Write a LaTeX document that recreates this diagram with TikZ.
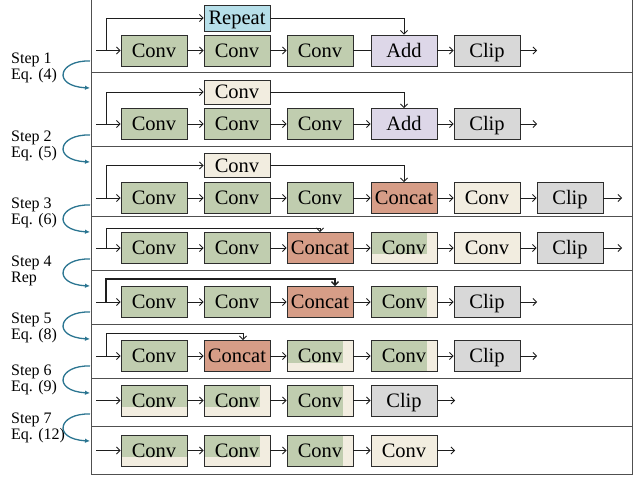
\documentclass[tikz,border=0pt]{standalone}
\usepackage{fontspec}
\setmainfont{Liberation Serif}
\usetikzlibrary{arrows.meta}
\definecolor{cgreen}{RGB}{192,205,175}
\definecolor{ccream}{RGB}{242,237,224}
\definecolor{crep}{RGB}{182,223,233}
\definecolor{cadd}{RGB}{221,215,232}
\definecolor{cclip}{RGB}{216,216,216}
\definecolor{ccat}{RGB}{214,157,135}
\definecolor{boxline}{RGB}{45,45,45}
\definecolor{lnc}{RGB}{30,30,30}
\definecolor{framec}{RGB}{80,80,80}
\definecolor{teal}{RGB}{43,117,145}
\begin{document}
\begin{tikzpicture}[x=1pt,y=-1pt,
  box/.style={draw=boxline, line width=0.9pt, minimum width=66pt, minimum height=31pt,
    inner sep=0pt, text height=13.6pt, text depth=0pt, font=\fontsize{20.5}{24}\selectfont},
  gconv/.style={box, fill=cgreen},
  cconv/.style={box, fill=ccream},
  addbox/.style={box, fill=cadd},
  clipbox/.style={box, fill=cclip},
  catbox/.style={box, fill=ccat},
  upbox/.style={minimum height=24pt},
  splitR/.style={box, fill=ccream, path picture={\fill[cgreen] (path picture bounding box.north west) rectangle ([xshift=-10pt]path picture bounding box.south east);}},
  splitB/.style={box, fill=ccream, path picture={\fill[cgreen] (path picture bounding box.north west) rectangle ([yshift=9pt]path picture bounding box.south east);}},
  splitBR/.style={box, fill=ccream, path picture={\fill[cgreen] (path picture bounding box.north west) rectangle ([xshift=-10pt,yshift=9pt]path picture bounding box.south east);}},
  arr/.style={draw=lnc, line width=0.8pt, -{Straight Barb[length=3.5pt,width=7pt]}},
  ln/.style={draw=lnc, line width=0.8pt},
  frame/.style={draw=framec, line width=1pt},
  curv/.style={draw=teal, line width=1.3pt, -{Latex[length=5pt,width=4.5pt]}},
  lab/.style={anchor=west, align=left, inner sep=0pt, font=\fontsize{16}{16.5}\selectfont}
]
\useasboundingbox (0,0) rectangle (637,478);
% frame
\draw[frame] (91,0) -- (91,474) -- (632,474) -- (632,0);
\foreach \s in {73,147,217,271,324,378,426} \draw[frame] (91,\s) -- (632,\s);

% ---- step labels and curved arrows
\node[lab] (l1) at (11,68) {Step 1\\Eq. (4)};
\node[lab] (l2) at (11,146) {Step 2\\Eq. (5)};
\node[lab] (l3) at (11,213) {Step 3\\Eq. (6)};
\node[lab] (l4) at (11,271) {Step 4\\Rep};
\node[lab] (l5) at (11,328) {Step 5\\Eq. (8)};
\node[lab] (l6) at (11,380) {Step 6\\Eq. (9)};
\node[lab] (l7) at (11,428) {Step 7\\Eq. (12)};
\foreach \s [count=\i] in {73,147,217,271,324,378,426}{
  \coordinate (cs\i) at (90,\s-12);
  \coordinate (ce\i) at (90,\s+15);
  \draw[curv] (cs\i) .. controls +(-32,-1) and +(-38,-2) .. (ce\i);
}

% ---- Row 1
\node[gconv] (a1) at (154,50.5) {Conv};
\node[gconv] (a2) at (237,50.5) {Conv};
\node[gconv] (a3) at (320,50.5) {Conv};
\node[addbox] (a4) at (404,50.5) {Add};
\node[clipbox] (a5) at (487,50.5) {Clip};
\node[box, fill=crep, minimum height=26pt] (ar) at (237,18) {Repeat};
\coordinate (ai) at (96,50.5); \coordinate (ab) at (106,50.5); \coordinate (ao) at (537,50.5);
\draw[arr] (ai) -- (a1);
\draw[arr] (ab) |- (ar);
\draw[arr] (a1) -- (a2);
\draw[arr] (a2) -- (a3);
\draw[ln] (a3) -- (a4);
\draw[arr] (a4) -- (a5);
\draw[arr] (a5) -- (ao);
\draw[arr] (ar) -| (a4);

% ---- Row 2
\node[gconv] (b1) at (154,124) {Conv};
\node[gconv] (b2) at (237,124) {Conv};
\node[gconv] (b3) at (320,124) {Conv};
\node[addbox] (b4) at (404,124) {Add};
\node[clipbox] (b5) at (487,124) {Clip};
\node[cconv, upbox] (bu) at (237,92) {Conv};
\coordinate (bi) at (96,124); \coordinate (bb) at (106,124); \coordinate (bo) at (537,124);
\draw[arr] (bi) -- (b1);
\draw[arr] (bb) |- (bu);
\draw[arr] (b1) -- (b2);
\draw[arr] (b2) -- (b3);
\draw[arr] (b3) -- (b4);
\draw[arr] (b4) -- (b5);
\draw[arr] (b5) -- (bo);
\draw[arr] (bu) -| (b4);

% ---- Row 3
\node[gconv] (c1) at (154,198) {Conv};
\node[gconv] (c2) at (237,198) {Conv};
\node[gconv] (c3) at (320,198) {Conv};
\node[catbox] (c4) at (404,198) {Concat};
\node[cconv] (c5) at (487,198) {Conv};
\node[clipbox] (c6) at (570,198) {Clip};
\node[cconv, upbox] (cu) at (237,165.5) {Conv};
\coordinate (ci) at (96,198); \coordinate (cb) at (106,198); \coordinate (co) at (622,198);
\draw[arr] (ci) -- (c1);
\draw[arr] (cb) |- (cu);
\draw[arr] (c1) -- (c2);
\draw[arr] (c2) -- (c3);
\draw[arr] (c3) -- (c4);
\draw[arr] (c4) -- (c5);
\draw[arr] (c5) -- (c6);
\draw[arr] (c6) -- (co);
\draw[arr] (cu) -| (c4);

% ---- Row 4
\node[gconv] (d1) at (154,248) {Conv};
\node[gconv] (d2) at (237,248) {Conv};
\node[catbox] (d3) at (320,248) {Concat};
\node[splitBR] (d4) at (404,248) {Conv};
\node[cconv] (d5) at (487,248) {Conv};
\node[clipbox] (d6) at (570,248) {Clip};
\coordinate (di) at (96,248); \coordinate (db) at (106,248); \coordinate (do) at (622,248);
\draw[arr] (di) -- (d1);
\draw[arr] (db) -- ++(0,-20) -| (d3);
\draw[arr] (d1) -- (d2);
\draw[arr] (d2) -- (d3);
\draw[arr] (d3) -- (d4);
\draw[arr] (d4) -- (d5);
\draw[arr] (d5) -- (d6);
\draw[arr] (d6) -- (do);

% ---- Row 5
\node[gconv] (e1) at (154,302) {Conv};
\node[gconv] (e2) at (237,302) {Conv};
\node[catbox] (e3) at (320,302) {Concat};
\node[splitR] (e4) at (404,302) {Conv};
\node[clipbox] (e5) at (487,302) {Clip};
\coordinate (ei) at (96,302); \coordinate (eb) at (106,302); \coordinate (eo) at (537,302);
\draw[arr] (ei) -- (e1);
\draw[arr, line width=1.4pt] (eb) -- ++(0,-23) -| ([xshift=15pt]e3.north);
\draw[arr] (e1) -- (e2);
\draw[arr] (e2) -- (e3);
\draw[arr] (e3) -- (e4);
\draw[arr] (e4) -- (e5);
\draw[arr] (e5) -- (eo);

% ---- Row 6
\node[gconv] (f1) at (154,356) {Conv};
\node[catbox] (f2) at (237,356) {Concat};
\node[splitBR] (f3) at (320,356) {Conv};
\node[splitR] (f4) at (404,356) {Conv};
\node[clipbox] (f5) at (487,356) {Clip};
\coordinate (fi) at (96,356); \coordinate (fb) at (106,356); \coordinate (fo) at (537,356);
\draw[arr] (fi) -- (f1);
\draw[arr] (fb) -- ++(0,-23) -| ([xshift=6pt]f2.north);
\draw[arr] (f1) -- (f2);
\draw[arr] (f2) -- (f3);
\draw[arr] (f3) -- (f4);
\draw[arr] (f4) -- (f5);
\draw[arr] (f5) -- (fo);

% ---- Row 7
\node[splitB] (g1) at (154,400.5) {Conv};
\node[splitBR] (g2) at (237,400.5) {Conv};
\node[splitR] (g3) at (320,400.5) {Conv};
\node[clipbox] (g4) at (404,400.5) {Clip};
\coordinate (gi) at (96,400.5); \coordinate (go) at (455,400.5);
\draw[arr] (gi) -- (g1);
\draw[arr] (g1) -- (g2);
\draw[arr] (g2) -- (g3);
\draw[arr] (g3) -- (g4);
\draw[arr] (g4) -- (go);

% ---- Row 8
\node[splitB] (h1) at (154,450.5) {Conv};
\node[splitBR] (h2) at (237,450.5) {Conv};
\node[splitR] (h3) at (320,450.5) {Conv};
\node[cconv] (h4) at (404,450.5) {Conv};
\coordinate (hi) at (96,450.5); \coordinate (ho) at (455,450.5);
\draw[arr] (hi) -- (h1);
\draw[arr] (h1) -- (h2);
\draw[arr] (h2) -- (h3);
\draw[arr] (h3) -- (h4);
\draw[arr] (h4) -- (ho);
\end{tikzpicture}
\end{document}
